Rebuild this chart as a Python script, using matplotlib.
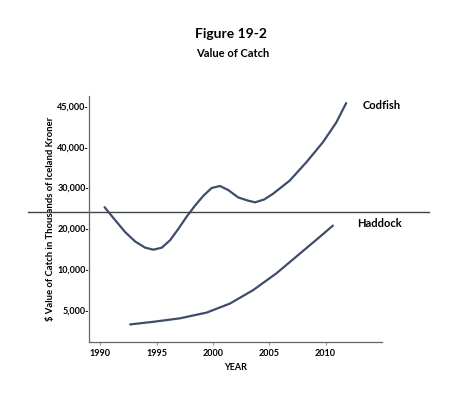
import numpy as np
import matplotlib
matplotlib.use("Agg")
import matplotlib.pyplot as plt

plt.rc("font", family=["Lato", "DejaVu Sans"], weight="bold")

# tick values sit at evenly spaced positions on the printed axis
ytick_vals = [5000, 10000, 20000, 30000, 40000, 45000]
ytick_labels = ["5,000-", "10,000-", "20,000-", "30,000-", "40,000-", "45,000-"]
xtick_vals = [1990, 1995, 2000, 2005, 2010]

cod_years = [1990.38, 1991.33, 1992.21, 1993.10, 1993.98, 1994.72, 1995.46,
             1996.19, 1996.93, 1997.67, 1998.41, 1999.15, 1999.88, 2000.62,
             2001.36, 2002.24, 2003.13, 2003.75, 2004.55, 2005.34, 2006.81,
             2008.29, 2009.76, 2010.94, 2011.83]
cod_vals = [25200, 22000, 19100, 16800, 15300, 14800, 15300,
            17100, 19900, 22900, 25600, 28000, 29900, 30400,
            29400, 27600, 26800, 26400, 27100, 28500, 31700,
            36200, 40550, 42950, 45350]

had_years = [1992.65, 1994.72, 1997.08, 1999.44, 2001.50, 2003.57, 2005.63,
             2007.70, 2009.47, 2010.65]
had_vals = [3250, 3575, 4000, 4700, 5800, 7450, 9500, 13800, 17900, 20700]

ref_level = 24100

# piecewise mapping value -> position
scale_vals = np.array([0] + ytick_vals + [50000])
scale_pos = np.arange(len(scale_vals), dtype=float)


def fwd(v):
    return np.interp(v, scale_vals, scale_pos)


def inv(p):
    return np.interp(p, scale_pos, scale_vals)


fig = plt.figure(figsize=(4.59, 3.94), dpi=100)
ax = fig.add_axes([0.194, 0.132, 0.638, 0.624])
ax.set_yscale("function", functions=(fwd, inv))

col = "#3d4d6a"
for xs, ys in [(cod_years, cod_vals), (had_years, had_vals)]:
    ax.plot(xs, ys, color=col, lw=1.6, solid_joinstyle="round", solid_capstyle="round")
ax.axhline(ref_level, xmin=-0.21, xmax=1.16, color="#444444", lw=1.0, clip_on=False)

ax.set_xlim(1989.0, 2015.0)
ax.set_ylim(inv(0.22), inv(6.24))

ax.set_yticks(ytick_vals)
ax.set_yticklabels(ytick_labels, fontsize=6.5, fontweight="bold")
ax.set_xticks(xtick_vals)
ax.set_xticklabels([str(x) for x in xtick_vals], fontsize=6.5, fontweight="bold")
ax.tick_params(axis="y", length=0, pad=0)
ax.tick_params(axis="x", length=2, color="#999999", pad=3)
ax.minorticks_off()

for s in ["top", "right"]:
    ax.spines[s].set_visible(False)
for s in ["left", "bottom"]:
    ax.spines[s].set_color("#666666")
    ax.spines[s].set_linewidth(0.9)

ax.set_ylabel("$ Value of Catch in Thousands of Iceland Kroner", fontsize=6.8,
              fontweight="bold", labelpad=1.5)
ax.set_xlabel("YEAR", fontsize=6.5, fontweight="bold", labelpad=4)

ax.text(1.0, 45000, "Codfish", transform=ax.get_yaxis_transform(), fontsize=8,
        fontweight="bold", ha="center", va="center")
ax.text(0.99, 21200, "Haddock", transform=ax.get_yaxis_transform(), fontsize=8,
        fontweight="bold", ha="center", va="center")

fig.text(0.503, 0.913, "Figure 19-2", ha="center", va="center", fontsize=10, fontweight="bold")
fig.text(0.507, 0.863, "Value of Catch", ha="center", va="center", fontsize=8, fontweight="bold")

fig.savefig("out.png", dpi=100)
